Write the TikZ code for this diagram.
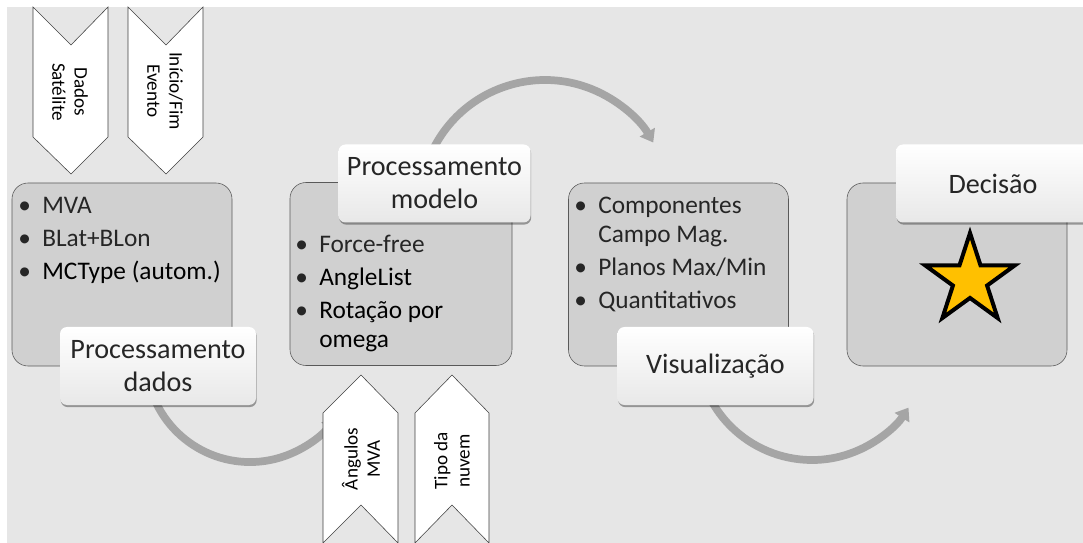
\documentclass[tikz,border=0pt]{standalone}
\usepackage{fontspec}
\setmainfont{Carlito}
\usetikzlibrary{arrows.meta,shadows,shapes.geometric}

\newlength{\pxu}
\setlength{\pxu}{0.025cm}

\definecolor{bggray}{RGB}{230,230,230}
\definecolor{boxgray}{RGB}{208,208,208}
\definecolor{flowgray}{RGB}{165,165,165}
\definecolor{stargold}{RGB}{255,192,0}

% bullet and hanging indent for the lists
\newcommand{\blt}{\rule{0pt}{14pt}\makebox[24\pxu][l]{\textbullet}}
\newcommand{\hng}{\makebox[24\pxu]{}}

\tikzset{
  block/.style={draw=black!65, fill=boxgray, rounded corners=16\pxu,
    minimum width=220\pxu, minimum height=183\pxu, inner sep=0pt},
  tag/.style={rounded corners=7\pxu, top color=white, bottom color=black!9,
    drop shadow={shadow xshift=0.5pt, shadow yshift=-1.5pt, opacity=0.35, fill=black},
    minimum width=196\pxu, minimum height=78\pxu, align=center, inner sep=0pt,
    font=\fontsize{20}{23.5}\selectfont, text=black!85},
  chev/.style={draw=black!75, fill=white, thin},
  chevtxt/.style={align=center, inner sep=0pt, font=\fontsize{13.6}{15.8}\selectfont},
  items/.style={anchor=north west, align=left, inner sep=0pt,
    font=\fontsize{18}{23.5}\selectfont, text=black!85},
  flow/.style={draw=flowgray, line width=5.5pt, -{Triangle[length=8.5pt, width=12pt]}},
}

\begin{document}
\begin{tikzpicture}[x=1\pxu,y=-1\pxu]
\useasboundingbox (0,0) rectangle (1083,543);
\fill[bggray] (7,7) rectangle (1083,543);

% curved flow arrows (behind everything)
\coordinate (f1) at (152.3,393.6);
\coordinate (f2) at (431.7,152.2);
\coordinate (f3) at (707.8,393.6);
\draw[flow] (f1) arc[start angle=160, end angle=35, radius=104];
\draw[flow] (f2) arc[start angle=-155, end angle=-30, radius=125];
\draw[flow] (f3) arc[start angle=155, end angle=33, radius=115];

% input chevrons
\draw[chev] (33,7) -- (71,45) -- (108,7) -- (108,137) -- (71,174) -- (33,137) -- cycle;
\draw[chev] (128,7) -- (166,45) -- (203,7) -- (203,137) -- (166,174) -- (128,137) -- cycle;
\draw[chev] (323,413) -- (361,375) -- (398,413) -- (398,543) -- (361,505) -- (323,543) -- cycle;
\draw[chev] (415,413) -- (452,375) -- (489,413) -- (489,543) -- (452,505) -- (415,543) -- cycle;
\node[chevtxt, rotate=-90] (c1) at (70,92) {Dados\\Satélite};
\node[chevtxt, rotate=-90] (c2) at (165,91) {Início/Fim\\Evento};
\node[chevtxt, rotate=90] (c3) at (361,459) {Ângulos\\MVA};
\node[chevtxt, rotate=90] (c4) at (452,461) {Tipo da\\nuvem};

% grey blocks
\node[block] (b1) at (122,274.5) {};
\node[block, minimum width=222\pxu] (b2) at (401,274) {};
\node[block] (b3) at (678.5,274.5) {};
\node[block] (b4) at (957,274.5) {};

\node[items] (l1) at (18,193.3) {\blt MVA\\ \blt BLat+BLon\\ \blt {\color{black}MCType (autom.)}};
\node[items] (l2) at (295,232.3) {\blt Force-free\\ \blt {\color{black}AngleList}\\
  \blt {\color{black}Rotação por}\\[-2.9pt] \hng {\color{black}omega}};
\node[items] (l3) at (574,193.3) {\blt Componentes\\[-2.9pt] \hng Campo Mag.\\
  \blt Planos Max/Min\\ \blt Quantitativos};

% white labels
\node[tag] (t1) at (158,366) {Processamento\\dados};
\node[tag, minimum width=192\pxu] (t2) at (434.5,183.5) {Processamento\\modelo};
\node[tag] (t3) at (715.5,366) {Visualização};
\node[tag, minimum width=194\pxu] (t4) at (993,183.5) {Decisão};

\node[star, star points=5, star point ratio=2.618, minimum size=94\pxu, inner sep=0pt,
  draw=black, line width=4\pxu, fill=stargold] (st) at (970,280) {};
\end{tikzpicture}
\end{document}
